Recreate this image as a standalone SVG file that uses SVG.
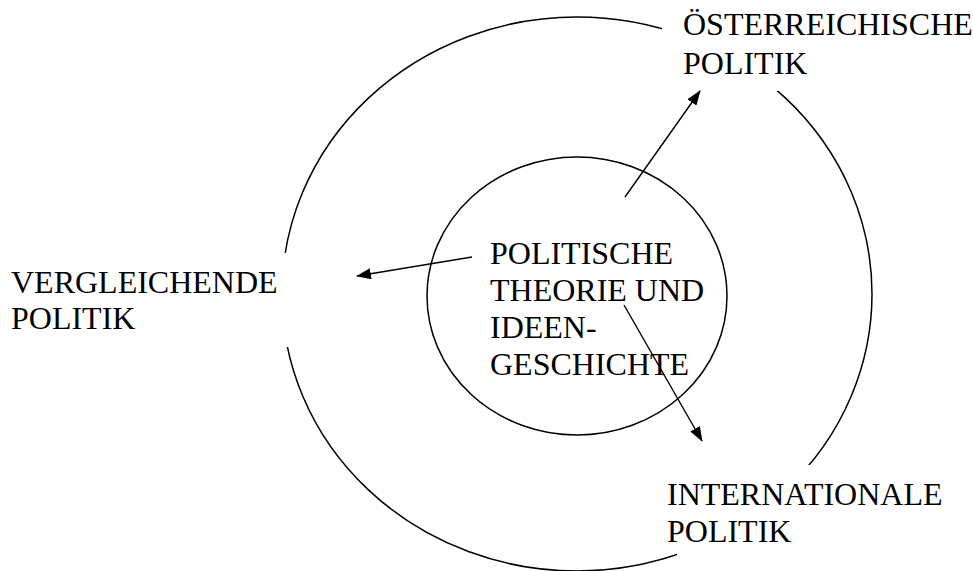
<svg xmlns="http://www.w3.org/2000/svg" width="973" height="571" viewBox="0 0 973 571">
<style>
.ring{fill:none;stroke:#000;stroke-width:1.5}
.box{fill:#fff;stroke:none}
.lbl{font-family:"Liberation Serif","Times New Roman",serif;font-size:32px;fill:#000}
.arr{stroke:#000;stroke-width:1.4;fill:none;marker-end:url(#ah)}
</style>
<defs>
<marker id="ah" markerUnits="userSpaceOnUse" markerWidth="15" markerHeight="11" viewBox="0 0 15 11" refX="14" refY="5.5" orient="auto">
<path d="M0,0 L15,5.5 L0,11 z" fill="#000"/>
</marker>
</defs>
<rect width="973" height="571" fill="#fff"/>
<g id="outer-ring"><ellipse class="ring" cx="577" cy="294" rx="295" ry="277"/></g>
<g id="oesterreichische-politik">
<rect class="box" x="662" y="0" width="311" height="91"/>
<text class="lbl" x="683" y="35">ÖSTERREICHISCHE</text>
<text class="lbl" x="683" y="74">POLITIK</text>
</g>
<g id="vergleichende-politik">
<rect class="box" x="0" y="253" width="300" height="94"/>
<text class="lbl" x="11" y="293">VERGLEICHENDE</text>
<text class="lbl" x="11" y="329">POLITIK</text>
</g>
<g id="internationale-politik">
<rect class="box" x="677" y="465" width="296" height="106"/>
<text class="lbl" x="667" y="505">INTERNATIONALE</text>
<text class="lbl" x="667" y="542">POLITIK</text>
</g>
<g id="politische-theorie">
<ellipse class="ring" cx="577" cy="296" rx="150" ry="139"/>
<text class="lbl" x="490" y="264">POLITISCHE</text>
<text class="lbl" x="490" y="301">THEORIE UND</text>
<text class="lbl" x="490" y="338">IDEEN-</text>
<text class="lbl" x="490" y="375">GESCHICHTE</text>
</g>
<g id="connectors">
<line class="arr" x1="625" y1="197" x2="700" y2="91"/>
<line class="arr" x1="472" y1="257" x2="357" y2="276"/>
<line class="arr" x1="624" y1="305" x2="702" y2="441"/>
</g>
</svg>
